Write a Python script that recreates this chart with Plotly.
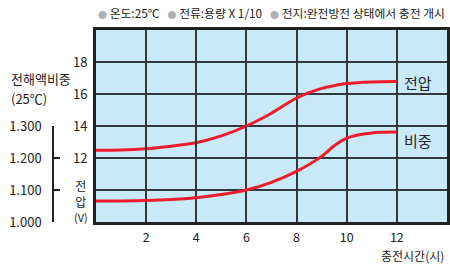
import plotly.graph_objects as go

# data
hours = [0, 1, 2, 3, 4, 5, 6, 7, 8, 9, 9.5, 10, 11, 12]
voltage = [12.48, 12.5, 12.58, 12.74, 12.95, 13.38, 14.0, 14.8, 15.75, 16.35, 16.52, 16.65, 16.75, 16.78]
gravity = [1.066, 1.066, 1.067, 1.070, 1.076, 1.086, 1.100, 1.124, 1.158, 1.205, 1.238, 1.262, 1.278, 1.281]

x_ticks = [2, 4, 6, 8, 10, 12]
v_ticks = [10, 12, 14, 16, 18]
v_ticktext = ["", "12", "14", "16", "18"]
sg_ticks = [1.0, 1.1, 1.2, 1.3]
sg_ticktext = ["1.000", "1.100", "1.200", "1.300"]

W, H = 450, 264
L, R, T, B = 0, 3, 30, 42
PW = W - L - R
PH = H - T - B
plot_left = 96

def px(x):
    return (x - L) / PW

def py(y):
    return (H - B - y) / PH

FONT = "Noto Sans CJK KR"
RED = "#ee1c2a"
DARK = "#222222"
GRID = "#34383b"
BG = "#c8e9f8"

fig = go.Figure()
fig.add_trace(go.Scatter(x=hours, y=voltage, mode="lines", line=dict(color=RED, width=3, shape="spline", smoothing=0.8),
                         xaxis="x", yaxis="y", hoverinfo="skip", showlegend=False))
fig.add_trace(go.Scatter(x=hours, y=gravity, mode="lines", line=dict(color=RED, width=3, shape="spline", smoothing=0.8),
                         xaxis="x", yaxis="y2", hoverinfo="skip", showlegend=False))

fig.update_layout(
    width=W, height=H,
    margin=dict(l=L, r=R, t=T, b=B, pad=0),
    paper_bgcolor="white",
    plot_bgcolor="rgba(0,0,0,0)",
    font=dict(family=FONT, size=13, color=DARK),
    xaxis=dict(domain=[px(plot_left), 1], range=[0, 14], tickvals=x_ticks, showgrid=True,
               gridcolor=GRID, gridwidth=2, showline=True, mirror=True, linecolor=DARK, linewidth=3,
               ticks="", zeroline=False, ticklabelstandoff=2, tickfont=dict(size=12.5, color=DARK),
               fixedrange=True),
    yaxis=dict(domain=[0, 1], range=[8, 20], tickvals=v_ticks, ticktext=v_ticktext, showgrid=True,
               gridcolor=GRID, gridwidth=2, showline=True, mirror=True, linecolor=DARK, linewidth=3,
               ticks="", zeroline=False, ticklabelstandoff=3, tickfont=dict(size=13, color=DARK),
               fixedrange=True),
    yaxis2=dict(domain=[0, 0.5], range=[1.0, 1.3], anchor="free", position=px(53), side="left",
                tickvals=sg_ticks, ticktext=sg_ticktext, showgrid=False, zeroline=False,
                showline=True, linecolor=DARK, linewidth=1.5, ticks="inside", ticklen=6,
                tickcolor=DARK, tickwidth=1.5, ticklabelstandoff=8, tickfont=dict(size=13, color=DARK),
                fixedrange=True),
    shapes=[dict(type="rect", xref="paper", yref="paper", x0=px(plot_left), x1=1, y0=0, y1=1,
                 fillcolor=BG, line=dict(width=0), layer="below")],
)

bullet = '<span style="color:#b0b0b0;font-size:9px">●</span> '
header = (bullet + "온도:25℃" + "&nbsp;&nbsp;&nbsp;" + bullet + "전류:용량 X 1/10" + "&nbsp;&nbsp;&nbsp;" +
          bullet + "전지:완전방전 상태에서 충전 개시")

ann = [
    dict(text=header, x=px(447), y=py(13), xanchor="right", yanchor="middle", font=dict(size=11.8)),
    dict(text="전해액비중", x=px(9), y=py(78), xanchor="left", yanchor="middle", font=dict(size=13)),
    dict(text="(25℃)", x=px(9), y=py(98), xanchor="left", yanchor="middle", font=dict(size=13)),
    dict(text="전<br>압<br><span style='font-size:11px'>(V)</span>", x=px(81), y=py(201),
         xanchor="center", yanchor="middle", font=dict(size=12)),
    dict(text="전압", x=px(418), y=py(82), xanchor="center", yanchor="middle", font=dict(size=15)),
    dict(text="비중", x=px(418), y=py(140), xanchor="center", yanchor="middle", font=dict(size=15)),
    dict(text="충전시간(시)", x=px(446), y=py(255.5), xanchor="right", yanchor="middle", font=dict(size=12)),
]
for a in ann:
    a.update(xref="paper", yref="paper", showarrow=False)
fig.update_layout(annotations=ann)

fig.write_html("out.html", config={"displayModeBar": False},
               post_script="document.body.style.margin='0px';")
